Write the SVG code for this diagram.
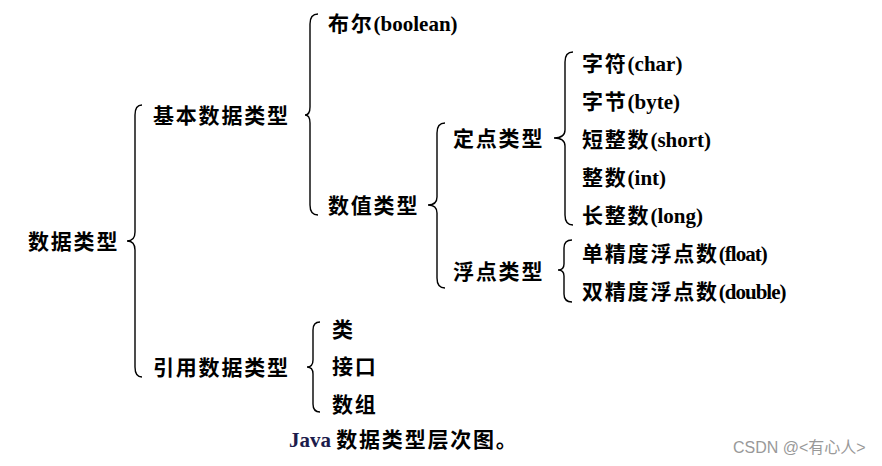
<svg xmlns="http://www.w3.org/2000/svg" width="882" height="466" viewBox="0 0 882 466">
<style>
.t{font-family:"Liberation Serif","Noto Sans CJK SC",serif;font-weight:bold;font-size:21px;fill:#000}
.c{font-family:"Noto Sans CJK SC",sans-serif;font-weight:bold;letter-spacing:1.8px}
.b{fill:none;stroke:#000;stroke-width:1.4}
.w{font-family:"Liberation Sans","Noto Sans CJK SC",sans-serif;font-size:16px;fill:#999}
</style>
<rect width="882" height="466" fill="#fff"/>
<g id="connectors">
<path class="b" d="M142 105 Q135 105 135 115 L135 232 Q135 241 127 241 Q135 241 135 250 L135 367 Q135 377 142 377"/>
<path class="b" d="M318 14 Q310 14 310 24 L310 107 Q310 115 305 115 Q310 115 310 123 L310 205 Q310 215 318 215"/>
<path class="b" d="M445 123 Q437 123 437 133 L437 197 Q437 205 428 205 Q437 205 437 213 L437 278 Q437 288 445 288"/>
<path class="b" d="M573 52 Q565 52 565 62 L565 130 Q565 138 554 138 Q565 138 565 146 L565 215 Q565 225 573 225"/>
<path class="b" d="M572 240 Q564 240 564 248 L564 264 Q564 270 558 270 Q564 270 564 276 L564 294 Q564 302 572 302"/>
<path class="b" d="M320 322 Q313 322 313 330 L313 360 Q313 367 307 367 Q313 367 313 374 L313 404 Q313 412 320 412"/>
</g>
<g id="root"><text class="t" x="28" y="249"><tspan class="c">数据类型</tspan></text></g>
<g id="basic"><text class="t" x="153" y="123"><tspan class="c">基本数据类型</tspan></text></g>
<g id="boolean"><text class="t" x="328" y="31"><tspan class="c">布尔</tspan>(boolean)</text></g>
<g id="numeric"><text class="t" x="328" y="213"><tspan class="c">数值类型</tspan></text></g>
<g id="fixed"><text class="t" x="453" y="146"><tspan class="c">定点类型</tspan></text></g>
<g id="floating"><text class="t" x="453" y="279"><tspan class="c">浮点类型</tspan></text></g>
<g id="char"><text class="t" x="582" y="71"><tspan class="c">字符</tspan>(char)</text></g>
<g id="byte"><text class="t" x="582" y="109"><tspan class="c">字节</tspan>(byte)</text></g>
<g id="short"><text class="t" x="582" y="147"><tspan class="c">短整数</tspan>(short)</text></g>
<g id="int"><text class="t" x="582" y="185"><tspan class="c">整数</tspan>(int)</text></g>
<g id="long"><text class="t" x="582" y="223"><tspan class="c">长整数</tspan>(long)</text></g>
<g id="float"><text class="t" x="582" y="261"><tspan class="c">单精度浮点数</tspan><tspan letter-spacing="-1">(float)</tspan></text></g>
<g id="double"><text class="t" x="582" y="299"><tspan class="c">双精度浮点数</tspan><tspan letter-spacing="-1">(double)</tspan></text></g>
<g id="reference"><text class="t" x="153" y="375"><tspan class="c">引用数据类型</tspan></text></g>
<g id="class"><text class="t" x="332" y="337"><tspan class="c">类</tspan></text></g>
<g id="interface"><text class="t" x="332" y="374"><tspan class="c">接口</tspan></text></g>
<g id="array"><text class="t" x="332" y="412"><tspan class="c">数组</tspan></text></g>
<g id="caption"><text class="t" x="289" y="447"><tspan fill="#1c1c4c">Java</tspan> <tspan class="c">数据类型层次图。</tspan></text></g>
<text class="w" x="733" y="453">CSDN @&lt;有心人&gt;</text>
</svg>
